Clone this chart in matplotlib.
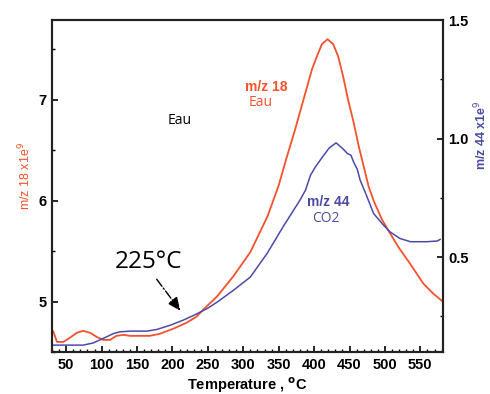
import matplotlib
matplotlib.use("Agg")
import matplotlib.pyplot as plt
from matplotlib.ticker import MultipleLocator

# m/z 18 (water), left axis, x1e9
temp_18 = [30, 32, 37, 46, 55, 65, 74, 84, 93, 102, 112, 121, 131, 140, 154,
           168, 182, 201, 220, 234, 245, 263, 286, 310, 334, 350, 361, 373,
           385, 397, 404, 411, 419, 427, 434, 441, 448, 456, 463, 470, 477,
           484, 496, 507, 519, 536, 554, 568, 580]
val_18 = [4.72, 4.70, 4.60, 4.60, 4.64, 4.69, 4.71, 4.69, 4.65, 4.62, 4.62,
          4.66, 4.67, 4.66, 4.66, 4.66, 4.68, 4.73, 4.79, 4.85, 4.93, 5.05,
          5.25, 5.49, 5.84, 6.15, 6.42, 6.70, 7.00, 7.30, 7.43, 7.55, 7.60,
          7.55, 7.43, 7.23, 7.00, 6.77, 6.54, 6.34, 6.14, 6.00, 5.81, 5.68,
          5.54, 5.37, 5.18, 5.08, 5.01]

# m/z 44 (CO2), right axis, x1e9
temp_44 = [30, 74, 88, 102, 117, 126, 140, 164, 178, 197, 215, 234, 250, 263,
           286, 310, 334, 356, 380, 388, 395, 402, 412, 421, 431, 440, 447,
           452, 456, 461, 465, 474, 484, 498, 507, 521, 536, 559, 574, 578]
val_44 = [0.129, 0.129, 0.138, 0.157, 0.178, 0.185, 0.188, 0.188, 0.195,
          0.213, 0.234, 0.260, 0.285, 0.310, 0.360, 0.416, 0.517, 0.627,
          0.740, 0.783, 0.846, 0.881, 0.923, 0.959, 0.982, 0.959, 0.937,
          0.930, 0.900, 0.870, 0.825, 0.760, 0.684, 0.635, 0.607, 0.579,
          0.565, 0.565, 0.568, 0.575]

red = "#f4512c"
blue = "#4b4ba6"

plt.rcParams['font.family'] = ['Liberation Sans', 'DejaVu Sans']

fig = plt.figure(figsize=(4.9, 3.94), dpi=100)
ax = fig.add_axes([52 / 490, 42 / 394, 391 / 490, 332 / 394])
ax2 = ax.twinx()

ax.plot(temp_18, val_18, color=red, lw=1.3)
ax2.plot(temp_44, val_44, color=blue, lw=1.1)

ax.set_xlim(30, 582)
ax.set_ylim(4.5, 7.79)
ax2.set_ylim(0.1, 1.5)

ax.xaxis.set_major_locator(MultipleLocator(50))
ax.xaxis.set_minor_locator(MultipleLocator(10))
ax.yaxis.set_major_locator(MultipleLocator(1))
ax.yaxis.set_minor_locator(MultipleLocator(0.5))
ax2.yaxis.set_major_locator(MultipleLocator(0.5))
ax2.yaxis.set_minor_locator(MultipleLocator(0.25))
ax2.yaxis.set_major_formatter(plt.FormatStrFormatter('%.1f'))

for a in (ax, ax2):
    a.tick_params(which='major', direction='in', length=4.5, width=1.2,
                  labelsize=10.5, pad=4)
    a.tick_params(which='minor', direction='in', length=2.5, width=1.0)
    for s in a.spines.values():
        s.set_linewidth(1.5)
        s.set_color('#222222')
    for lab in a.get_xticklabels() + a.get_yticklabels():
        lab.set_fontweight('bold')
ax.tick_params(axis='x', which='both', top=False)

ax.set_xlabel("Temperature , $^\\mathbf{o}$C", fontsize=10.5, fontweight='bold',
              labelpad=3)

fig.text(25 / 490, 1 - 176 / 394, "m/z 18 x1e$^9$", color=red, fontsize=9,
         rotation=90, ha='center', va='center')
fig.text(481 / 490, 1 - 135 / 394, "m/z 44 x1e$^9$", color=blue, fontsize=9,
         fontweight='bold', rotation=90, ha='center', va='center')

fig.text(266 / 490, 1 - 87 / 394, "m/z 18", color=red, fontsize=10,
         fontweight='bold', ha='center', va='center')
fig.text(261 / 490, 1 - 103 / 394, "Eau", color=red, fontsize=10,
         ha='center', va='center', family='Open Sans')
fig.text(180 / 490, 1 - 121 / 394, "Eau", color='black', fontsize=10,
         ha='center', va='center', family='Open Sans')
fig.text(328 / 490, 1 - 202 / 394, "m/z 44", color=blue, fontsize=10,
         fontweight='bold', ha='center', va='center')
fig.text(326 / 490, 1 - 219 / 394, "CO2", color=blue, fontsize=10,
         ha='center', va='center', family='Open Sans')

ax.annotate("", xy=(182 / 490, 1 - 313 / 394), xycoords='figure fraction',
            xytext=(155 / 490, 1 - 277 / 394), textcoords='figure fraction',
            arrowprops=dict(arrowstyle='-|>,head_length=0.8,head_width=0.35',
                            linestyle='-.', color='black', lw=1.0))
fig.text(148 / 490, 1 - 262 / 394, "225°C", color='black', fontsize=17.5,
         ha='center', va='center', family='Open Sans')

fig.savefig("out.png", dpi=100)
